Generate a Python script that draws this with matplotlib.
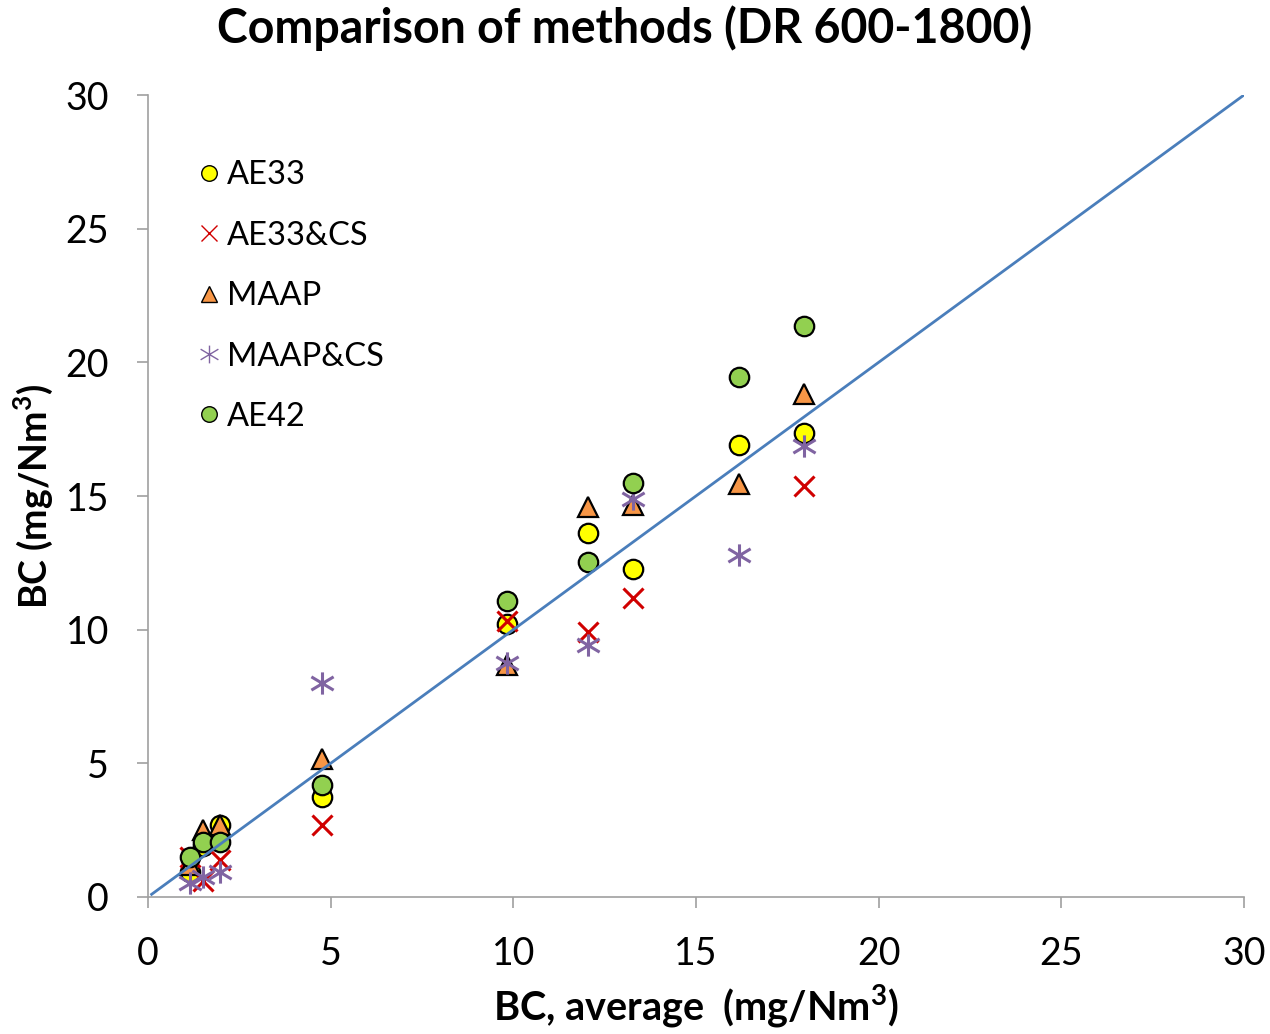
import numpy as np
import matplotlib.pyplot as plt
from matplotlib.path import Path

plt.rcParams['font.family'] = ['Lato', 'DejaVu Sans']

# average BC per run (x) and each instrument's reading (y)
x_avg = [1.15, 1.5, 1.97, 4.76, 9.83, 12.04, 13.28, 16.18, 17.96]
ae33 = [0.94, 1.9, 2.69, 3.74, 10.21, 13.62, 12.27, 16.91, 17.36]
ae33_cs = [1.5, 0.6, 1.4, 2.69, 10.33, 9.91, 11.19, np.nan, 15.38]
maap = [1.2, 2.5, 2.69, 5.15, 8.68, 14.59, 14.66, 15.45, 18.82]
maap_cs = [0.52, 0.75, 0.94, 8.0, 8.75, 9.43, 14.88, 12.79, 16.87]
ae42 = [1.5, 2.06, 2.06, 4.19, 11.07, 12.53, 15.49, 19.45, 21.36]

# asterisk marker: vertical bar plus a flat X
star = Path([(0, -1), (0, 1), (-1, -0.6), (1, 0.6), (-1, 0.6), (1, -0.6)],
            [Path.MOVETO, Path.LINETO, Path.MOVETO, Path.LINETO, Path.MOVETO, Path.LINETO])

fig = plt.figure(figsize=(12.7, 10.34), dpi=100)
ax = fig.add_axes([0.1165, 0.1325, 0.863, 0.7756])

ax.plot(x_avg, ae33, 'o', ms=14, mfc='#FFFF00', mec='black', mew=1.6, label='AE33')
ax.plot(x_avg, ae33_cs, 'x', ms=15, mec='#D00000', mew=2.2, label='AE33&CS')
ax.plot(x_avg, maap, '^', ms=15, mfc='#F79646', mec='black', mew=1.6, label='MAAP')
ax.plot(x_avg, maap_cs, marker=star, ls='none', ms=16, mfc='none', mec='#8064A2', mew=2.2, label='MAAP&CS')
ax.plot(x_avg, ae42, 'o', ms=14, mfc='#92D050', mec='black', mew=1.6, label='AE42')

# 1:1 line
ax.plot([0.1, 30], [0.1, 30], color='#4A7EBB', lw=2, zorder=5)

ax.set_xlim(0, 30)
ax.set_ylim(0, 30)
ax.set_xticks(range(0, 31, 5))
ax.set_yticks(range(0, 31, 5))
ax.tick_params(labelsize=27, color='#A0A0A0', length=8, width=1.2, direction='out')
ax.tick_params(axis='x', pad=20)
ax.tick_params(axis='y', pad=20)
for s in ['top', 'right']:
    ax.spines[s].set_visible(False)
for s in ['left', 'bottom']:
    ax.spines[s].set_color('#A0A0A0')
    ax.spines[s].set_linewidth(1.2)

leg = ax.legend(loc='upper left', bbox_to_anchor=(0.02, 0.955), frameon=False,
                fontsize=23.5, markerscale=0.8, handlelength=0.6, handletextpad=0.25,
                labelspacing=0.93)
for h in leg.legend_handles:
    h.set_markeredgewidth(1.0)

fig.text(0.492, 0.973, 'Comparison of methods (DR 600-1800)', ha='center', va='center',
         fontsize=33.5, fontweight='bold')
fig.text(0.548, 0.003, r'BC, average  (mg/Nm$^\mathregular{3}$)', ha='center', va='bottom',
         fontsize=28.5, fontweight='bold')
fig.text(0.026, 0.52, r'BC (mg/Nm$^\mathregular{3}$)', ha='center', va='center',
         rotation=90, fontsize=27, fontweight='bold')

fig.savefig('out.png', dpi=100)
